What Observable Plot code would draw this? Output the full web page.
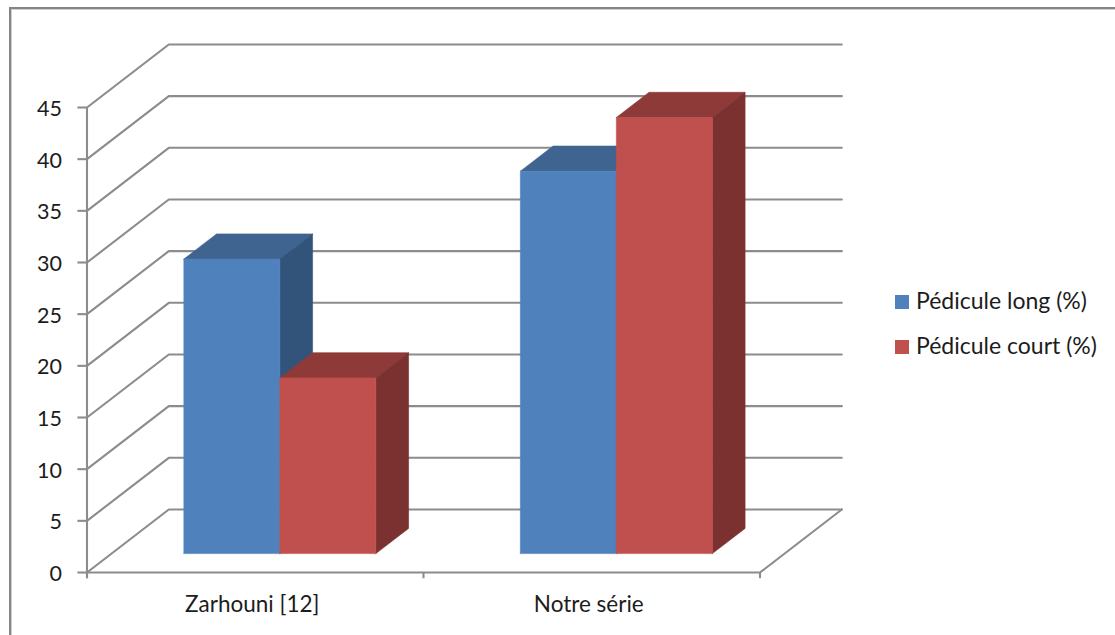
<!DOCTYPE html>
<html>
<head>
<meta charset="utf-8">
<script src="https://cdn.jsdelivr.net/npm/d3@7"></script>
<script src="https://cdn.jsdelivr.net/npm/@observablehq/plot@0.6"></script>
<style>
  html, body { margin: 0; padding: 0; background: #fff; overflow: hidden; }
  #page { position: relative; width: 1115px; height: 635px; font-family: Lato, "Open Sans", sans-serif; color: #1c1c1c; }
  #page svg { position: absolute; left: 0; top: 0; }
  #frame { position: absolute; left: 9px; top: 7px; right: 0; bottom: 0; border-left: 2px solid #858585; border-top: 2px solid #858585; box-shadow: inset 1px 1px 0 #cfcfcf; }
  #legend { position: absolute; left: 895px; top: 278px; font-size: 23px; line-height: 45px; white-space: nowrap; }
  #legend div { display: flex; align-items: center; }
  #legend i { display: block; width: 14px; height: 14px; margin-right: 7px; position: relative; top: 1px; }
</style>
</head>
<body>
<div id="page"><div id="frame"></div><div id="legend"></div></div>
<script>
const categories = ["Zarhouni [12]", "Notre série"];
const seriesNames = ["Pédicule long (%)", "Pédicule court (%)"];
const pediculeLong = [28.5, 37];
const pediculeCourt = [17, 42.2];
const yTicks = [0, 5, 10, 15, 20, 25, 30, 35, 40, 45];
const xTicks = [0, 1, 2];

const seriesColors = [
  {front: "#4f81bd", top: "#3f6490", side: "#32547b"},
  {front: "#c0504d", top: "#8e3a38", side: "#7b3130"}
];
const gridColor = "#8c8c8c";

// Oblique projection: depth 0..1 shifts a point along both scales.
const depthX = 81.8 / 336.5;
const depthY = 6.1;
const at = (c, v, d) => ({x: c + d * depthX, y: v + d * depthY});

// Bar layout inside one category, in category units and depth units.
const gapShare = 0.2149, barShare = 0.2853, depthFront = 0.3, depthBack = 0.7;

const face = (points, fill) => Plot.line(points, {x: "x", y: "y", fill, stroke: fill, strokeWidth: 0.6, curve: "linear"});

function barFaces(catIndex, serIndex, value) {
  const c0 = catIndex + gapShare + serIndex * barShare, c1 = c0 + barShare;
  const col = seriesColors[serIndex];
  return [
    face([at(c0, value, depthFront), at(c0, value, depthBack), at(c1, value, depthBack), at(c1, value, depthFront), at(c0, value, depthFront)], col.top),
    face([at(c1, 0, depthFront), at(c1, 0, depthBack), at(c1, value, depthBack), at(c1, value, depthFront), at(c1, 0, depthFront)], col.side),
    face([at(c0, 0, depthFront), at(c1, 0, depthFront), at(c1, value, depthFront), at(c0, value, depthFront), at(c0, 0, depthFront)], col.front)
  ];
}

const gridRows = yTicks.flatMap(v => [at(0, v, 0), at(0, v, 1), at(2, v, 1)].map(p => ({...p, v})));
const floorEdge = [at(2, 0, 0), at(2, 0, 1)];
const bars = categories.flatMap((_, i) => [
  ...barFaces(i, 0, pediculeLong[i]),
  ...barFaces(i, 1, pediculeCourt[i])
]);

const chart = Plot.plot({
  width: 1115, height: 635,
  marginLeft: 86.5, marginRight: 355.5, marginTop: 107, marginBottom: 63,
  x: {domain: [0, 2]},
  y: {domain: [0, 45]},
  style: {fontFamily: "Lato, 'Open Sans', sans-serif", background: "transparent", overflow: "visible"},
  marks: [
    Plot.line(gridRows, {x: "x", y: "y", z: "v", stroke: gridColor, strokeWidth: 2.1}),
    Plot.line(floorEdge, {x: "x", y: "y", stroke: gridColor, strokeWidth: 2.1}),
    Plot.ruleX([0], {y1: -0.6, y2: 45, stroke: gridColor, strokeWidth: 2.1}),
    Plot.ruleY([0], {x1: 0, x2: 2, stroke: gridColor, strokeWidth: 2.1}),
    Plot.ruleY(yTicks, {x1: -0.027, x2: 0, stroke: gridColor, strokeWidth: 2.1}),
    Plot.ruleX(xTicks, {y1: -0.6, y2: 0, stroke: gridColor, strokeWidth: 2.1}),
    ...bars,
    Plot.axisY({ticks: yTicks, tickSize: 0, tickPadding: 25, label: null, color: "#1c1c1c", fontSize: 21.5, dy: 1.5}),
    Plot.axisX({ticks: [0.5, 1.5], tickSize: 0, tickPadding: 24, label: null, color: "#1c1c1c", fontSize: 22.5, dx: -3, tickFormat: d => categories[Math.floor(d)]})
  ]
});
document.getElementById("page").appendChild(chart);

const legend = document.getElementById("legend");
seriesNames.forEach((name, i) => {
  const row = document.createElement("div");
  const swatch = document.createElement("i");
  swatch.style.background = seriesColors[i].front;
  row.appendChild(swatch);
  row.appendChild(document.createTextNode(name));
  legend.appendChild(row);
});
</script>
</body>
</html>
